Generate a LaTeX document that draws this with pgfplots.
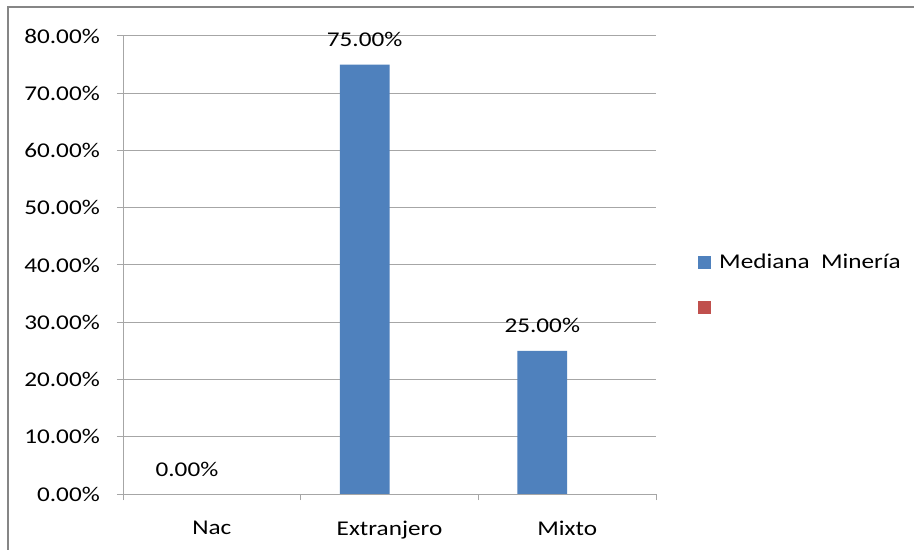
\documentclass[border=0pt]{standalone}
\usepackage{pgfplots}
\pgfplotsset{compat=1.18}
\usepackage{fontspec}
\setmainfont{Carlito}[FakeStretch=1.2]
\definecolor{barblue}{HTML}{4F81BD}
\definecolor{barred}{HTML}{C0504D}
\definecolor{gridgray}{HTML}{A6A6A6}
\definecolor{framegray}{HTML}{868686}
\begin{document}
\fontsize{21bp}{25bp}\selectfont
\begin{tikzpicture}
\useasboundingbox (0bp,0bp) rectangle (914bp,550bp);
\fill[white] (0bp,0bp) rectangle (914bp,550bp);
\draw[framegray, line width=2bp] (8bp,0bp) -- (8bp,543bp) -- (914bp,543bp);
\begin{axis}[
  at={(123bp,56bp)}, anchor=south west,
  scale only axis, width=533bp, height=458bp,
  xmin=-0.5, xmax=2.5, ymin=0, ymax=80,
  axis lines*=left,
  axis line style={gridgray, line width=1bp},
  ymajorgrids, grid style={gridgray, line width=1bp},
  ytick={0,10,...,80},
  yticklabels={0.00\%,10.00\%,20.00\%,30.00\%,40.00\%,50.00\%,60.00\%,70.00\%,80.00\%},
  xtick={-0.5,0.5,1.5,2.5},
  x tick label as interval,
  xticklabels={Nac,Extranjero,Mixto},
  tick align=outside, major tick length=6bp,
  tick style={gridgray, line width=1bp},
  ticklabel style={font=\fontsize{21bp}{25bp}\selectfont, text=black},
  yticklabel style={xshift=-10bp},
  xticklabel style={yshift=-14bp},
  ybar, bar width=0.28,
  legend style={at={(1,0.462)}, anchor=west, xshift=42bp, draw=none, fill=none,
    font=\fontsize{21bp}{25bp}\selectfont, row sep=26bp, inner sep=0pt,
    nodes={inner sep=3bp}},
  legend cell align=left,
  legend image code/.code={\fill[#1] (0bp,-6.5bp) rectangle (13bp,6.5bp);},
]
\addplot[fill=barblue, draw=none, bar shift=-0.14,
  nodes near coords={\pgfmathprintnumber[fixed,fixed zerofill,precision=2]{\pgfplotspointmeta}\%},
  nodes near coords style={anchor=base, yshift=18bp, text=black,
    font=\fontsize{21bp}{25bp}\selectfont, /pgf/number format/assume math mode=true}]
  coordinates {(0,0) (1,75) (2,25)};
\addlegendentry{\hspace{5bp}Mediana\ \ Minería}
\addlegendimage{fill=barred, draw=none}
\addlegendentry{}
\end{axis}
\end{tikzpicture}
\end{document}
